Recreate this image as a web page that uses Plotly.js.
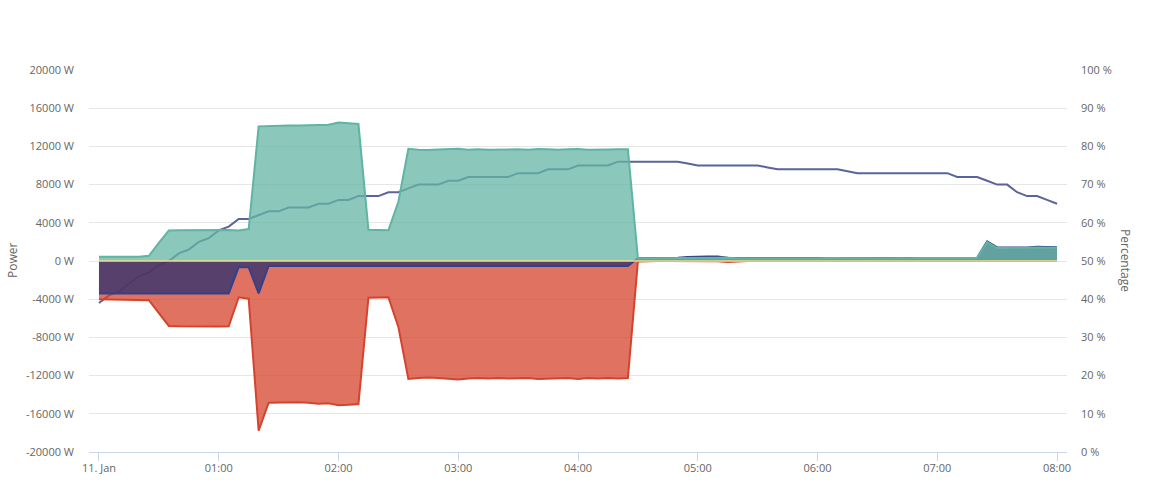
<!DOCTYPE html>
<html>
<head>
<meta charset="utf-8">
<script src="https://cdn.plot.ly/plotly-3.0.1.min.js"></script>
<style>html,body{margin:0;padding:0;background:#fff;}#chart{width:1161px;height:491px;}</style>
</head>
<body>
<div id="chart"></div>
<script>
// ---- Data ----
const day = '2021-01-11';
const times = ['00:00','00:05','00:10','00:15','00:20','00:25','00:30','00:35','00:40','00:45','00:50','00:55',
  '01:00','01:05','01:10','01:15','01:20','01:25','01:30','01:35','01:40','01:45','01:50','01:55',
  '02:00','02:05','02:10','02:15','02:20','02:25','02:30','02:35','02:40','02:45','02:50','02:55',
  '03:00','03:05','03:10','03:15','03:20','03:25','03:30','03:35','03:40','03:45','03:50','03:55',
  '04:00','04:05','04:10','04:15','04:20','04:25','04:30','04:35','04:40','04:45','04:50','04:55',
  '05:00','05:05','05:10','05:15','05:20','05:25','05:30','05:35','05:40','05:45','05:50','05:55',
  '06:00','06:05','06:10','06:15','06:20','06:25','06:30','06:35','06:40','06:45','06:50','06:55',
  '07:00','07:05','07:10','07:15','07:20','07:25','07:30','07:35','07:40','07:45','07:50','07:55',
  '08:00'];

// Grid (green area, W)
const gridPower = [450,430,430,440,450,550,1900,3200,3220,3230,3250,3260,
  3280,3250,3200,3350,14100,14150,14180,14200,14180,14220,14300,14280,
  14500,14420,14350,3280,3250,3210,6200,11750,11650,11620,11680,11720,
  11760,11650,11700,11640,11680,11660,11700,11650,11720,11700,11640,11700,
  11730,11660,11700,11680,11700,11700,280,290,300,300,310,330,
  360,380,370,330,300,290,300,300,310,300,290,300,
  300,310,300,300,290,300,300,300,290,300,310,320,
  320,310,300,300,320,1980,1360,1370,1350,1380,1420,1390,
  1400];

// Consumption (red area, W)
const loadPower = [-4000,-4010,-4010,-4020,-4050,-4100,-5450,-6800,-6830,-6850,-6860,-6860,
  -6850,-6840,-3800,-3950,-17760,-14830,-14800,-14820,-14800,-14850,-14950,-14900,
  -15100,-15050,-14970,-3840,-3820,-3800,-6900,-12350,-12250,-12200,-12250,-12350,
  -12400,-12300,-12250,-12300,-12250,-12300,-12250,-12250,-12350,-12300,-12300,-12250,
  -12350,-12250,-12300,-12250,-12300,-12250,-50,0,0,0,0,0,
  0,0,-30,-110,-30,0,0,0,0,0,0,0,
  0,0,0,0,0,0,0,0,0,0,0,0,
  0,0,-20,-70,-20,0,0,0,0,0,0,0,
  0];

// Battery (purple area, W)
const batteryPower = [-3400,-3400,-3400,-3400,-3400,-3400,-3400,-3400,-3400,-3400,-3400,-3400,
  -3400,-3400,-650,-650,-3400,-520,-520,-520,-520,-520,-520,-520,
  -520,-520,-520,-520,-520,-520,-520,-520,-520,-520,-520,-520,
  -520,-520,-520,-520,-520,-520,-520,-520,-520,-520,-520,-520,
  -520,-520,-520,-520,-520,-520,300,300,310,320,330,420,
  470,480,460,340,310,300,310,310,320,310,300,310,
  310,320,310,310,300,310,310,310,300,310,320,330,
  330,320,310,310,340,2050,1420,1420,1400,1420,1480,1430,
  1440];

// PV (yellow line, W)
const pvPower = [0,0,0,0,0,0,0,0,0,0,0,0, 0,0,0,0,0,0,0,0,0,0,0,0,
  0,0,0,0,0,0,0,0,0,0,0,0, 0,0,0,0,0,0,0,0,0,0,0,0,
  0,0,0,0,0,0,0,0,0,0,0,0, 0,0,0,0,0,0,0,0,0,0,0,0,
  0,0,0,0,0,0,0,0,0,0,0,0, 0,0,0,0,0,0,0,0,0,0,0,0, 0];

// Battery state of charge (%)
const soc = [39,41,42,44,46,47,49,50,52,53,55,56,
  58,59,61,61,62,63,63,64,64,64,65,65,
  66,66,67,67,67,68,68,69,70,70,70,71,
  71,72,72,72,72,72,73,73,73,74,74,74,
  75,75,75,75,76,76,76,76,76,76,76,75.5,
  75,75,75,75,75,75,75,74.5,74,74,74,74,
  74,74,74,73.5,73,73,73,73,73,73,73,73,
  73,73,72,72,72,71,70,70,68,67,67,66,
  65];

const tickTimes = ['00:00','01:00','02:00','03:00','04:00','05:00','06:00','07:00','08:00'];
const tickLabels = ['11. Jan','01:00','02:00','03:00','04:00','05:00','06:00','07:00','08:00'];
const powerTicks = [-20000,-16000,-12000,-8000,-4000,0,4000,8000,12000,16000,20000];
const powerTickLabels = ['-20000 W','-16000 W','-12000 W','-8000 W','-4000 W','0 W','4000 W','8000 W','12000 W','16000 W','20000 W'];
const pctTicks = [0,10,20,30,40,50,60,70,80,90,100];
const pctTickLabels = ['0 %','10 %','20 %','30 %','40 %','50 %','60 %','70 %','80 %','90 %','100 %'];

// ---- Chart ----
const x = times.map(t => day + ' ' + t);
const font = {family: '"Open Sans", Roboto, sans-serif', size: 11, color: '#666666'};

const traces = [
  {x: x, y: soc, yaxis: 'y', type: 'scatter', mode: 'lines', name: 'Percentage',
   line: {color: '#5a6498', width: 2}, hoverinfo: 'skip'},
  {x: x, y: loadPower, yaxis: 'y2', type: 'scatter', mode: 'lines', name: 'Load',
   fill: 'tozeroy', fillcolor: 'rgba(213,67,45,0.75)', line: {color: '#d5432d', width: 2}},
  {x: x, y: batteryPower, yaxis: 'y2', type: 'scatter', mode: 'lines', name: 'Battery',
   fill: 'tozeroy', fillcolor: 'rgba(44,50,112,0.76)', line: {color: '#34408a', width: 2}},
  {x: x, y: gridPower, yaxis: 'y2', type: 'scatter', mode: 'lines', name: 'Grid',
   fill: 'tozeroy', fillcolor: 'rgba(100,181,164,0.75)', line: {color: '#5fb4a2', width: 2}},
  {x: x, y: pvPower, yaxis: 'y2', type: 'scatter', mode: 'lines', name: 'PV',
   line: {color: '#eee08a', width: 1.5}}
];

const layout = {
  width: 1161, height: 491,
  margin: {l: 89, r: 94, t: 70, b: 39, pad: 0},
  paper_bgcolor: '#ffffff', plot_bgcolor: '#ffffff',
  showlegend: false,
  font: font,
  xaxis: {
    type: 'date',
    range: ['2021-01-10 23:55:00', day + ' 08:05:00'],
    tickvals: tickTimes.map(t => day + ' ' + t),
    ticktext: tickLabels,
    ticks: 'outside', ticklen: 8, tickcolor: '#ccd6eb', tickwidth: 1,
    ticklabelstandoff: -2,
    showline: true, linecolor: '#ccd6eb', linewidth: 1,
    showgrid: false, zeroline: false,
    tickfont: font
  },
  yaxis: {
    side: 'right',
    range: [0, 100],
    tickvals: pctTicks, ticktext: pctTickLabels,
    showgrid: true, gridcolor: '#e6e6e6', gridwidth: 1,
    zeroline: false, showline: false, ticks: '',
    ticklabelstandoff: 13,
    tickfont: font
  },
  yaxis2: {
    side: 'left', overlaying: 'y',
    range: [-20000, 20000],
    tickvals: powerTicks, ticktext: powerTickLabels,
    showgrid: false, zeroline: false, showline: false, ticks: '',
    ticklabelstandoff: 14,
    tickfont: font
  },
  annotations: [
    {text: 'Power', xref: 'paper', yref: 'paper', x: -0.0787, y: 0.5, showarrow: false,
     textangle: -90, font: {family: font.family, size: 12, color: '#666666'}, xanchor: 'center', yanchor: 'middle'},
    {text: 'Percentage', xref: 'paper', yref: 'paper', x: 1.0603, y: 0.5, showarrow: false,
     textangle: 90, font: {family: font.family, size: 12, color: '#666666'}, xanchor: 'center', yanchor: 'middle'}
  ]
};

Plotly.newPlot('chart', traces, layout, {displayModeBar: false, staticPlot: true});
</script>
</body>
</html>
